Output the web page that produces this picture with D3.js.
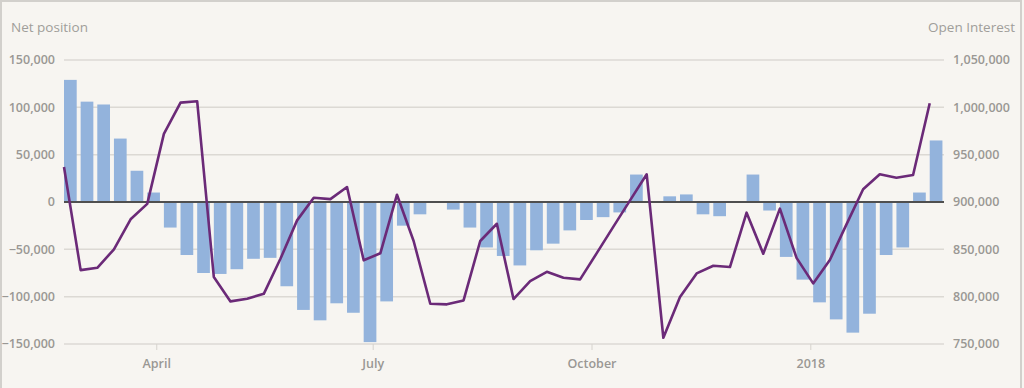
<!DOCTYPE html>
<html>
<head>
<meta charset="utf-8">
<script src="https://cdn.jsdelivr.net/npm/d3@7"></script>
<style>
  body { margin: 0; background: #f7f5f1; }
  #chart1 text { font-family: "Open Sans", sans-serif; }
</style>
</head>
<body>
<div id="chart1"></div>
<script>

// weekly report dates (Tuesdays)
var dates = ["2017-02-21","2017-02-28","2017-03-07","2017-03-14","2017-03-21","2017-03-28",
  "2017-04-04","2017-04-11","2017-04-18","2017-04-25","2017-05-02","2017-05-09","2017-05-16",
  "2017-05-23","2017-05-30","2017-06-06","2017-06-13","2017-06-20","2017-06-27","2017-07-04",
  "2017-07-11","2017-07-18","2017-07-25","2017-08-01","2017-08-08","2017-08-15","2017-08-22",
  "2017-08-29","2017-09-05","2017-09-12","2017-09-19","2017-09-26","2017-10-03","2017-10-10",
  "2017-10-17","2017-10-24","2017-10-31","2017-11-07","2017-11-14","2017-11-21","2017-11-28",
  "2017-12-05","2017-12-12","2017-12-19","2017-12-26","2018-01-02","2018-01-09","2018-01-16",
  "2018-01-23","2018-01-30","2018-02-06","2018-02-13","2018-02-20"];

// net position (bars, left axis)
var netPosition = [129000,106000,103000,67000,33000,10000,-27000,-56000,-75000,-76000,-71000,
  -60000,-59000,-89000,-114000,-125000,-107000,-117000,-148000,-105000,-25000,-13000,0,-8000,
  -27000,-48000,-57000,-67000,-51000,-44000,-30000,-19000,-16000,-11000,29000,1000,6000,8000,
  -13000,-15000,1000,29000,-9000,-58000,-82000,-106000,-124000,-138000,-118000,-56000,-48000,
  10000,65000];

// open interest (line, right axis)
var openInterest = [937000,828000,830500,850000,881700,898000,972000,1005000,1006400,820700,
  795000,797800,803000,840000,880600,904500,903000,915800,838400,845800,907700,858800,792500,
  791900,796000,858800,877000,797500,816500,826300,820000,818300,846000,874000,901700,929300,
  756600,799600,824600,832700,831300,888700,845400,893000,841000,814000,838700,876400,913400,
  929300,925700,928500,1004300];

var leftTicks = [-150000,-100000,-50000,0,50000,100000,150000];
var rightTicks = [750000,800000,850000,900000,950000,1000000,1050000];
var monthTicks = ["2017-04-01","2017-07-01","2017-10-01","2018-01-01"];
var monthLabels = ["April","July","October","2018"];

var w = 1024;
var h = 388;
var plotLeft = 64, plotRight = 944, plotTop = 60, plotBottom = 344;

var parse = d3.utcParse("%Y-%m-%d");
var fmt = d3.format(",");

var xScale = d3.scaleUtc()
    .domain([parse("2017-02-21"), parse("2018-02-26")])
    .range([plotLeft, plotRight]);

var yLeft = d3.scaleLinear()
    .domain([-150000, 150000])
    .range([plotBottom, plotTop]);

var yRight = d3.scaleLinear()
    .domain([750000, 1050000])
    .range([plotBottom, plotTop]);

var svg = d3.select("#chart1")
    .append("svg")
    .attr("width", w)
    .attr("height", h);

svg.append("rect")
    .attr("width", w)
    .attr("height", h)
    .attr("fill", "#f7f5f1");

// frame
svg.append("rect")
    .attr("x", 1)
    .attr("y", 1)
    .attr("width", w - 4)
    .attr("height", h)
    .attr("fill", "none")
    .attr("stroke", "#d2d0cc")
    .attr("stroke-width", 2);

// gridlines
svg.append("g")
    .selectAll("line")
    .data(leftTicks)
    .enter()
    .append("line")
    .attr("x1", plotLeft)
    .attr("x2", plotRight)
    .attr("y1", function(d) { return yLeft(d); })
    .attr("y2", function(d) { return yLeft(d); })
    .attr("stroke", "#dcd9d4")
    .attr("stroke-width", 1.5);

// left axis labels
svg.append("g")
    .selectAll("text")
    .data(leftTicks)
    .enter()
    .append("text")
    .attr("x", 55)
    .attr("y", function(d) { return yLeft(d); })
    .attr("dy", "0.35em")
    .attr("text-anchor", "end")
    .attr("font-size", 12.5)
    .attr("font-weight", 600)
    .attr("fill", "#9a9894")
    .text(function(d) { return fmt(d); });

// right axis labels
svg.append("g")
    .selectAll("text")
    .data(rightTicks)
    .enter()
    .append("text")
    .attr("x", 953)
    .attr("y", function(d) { return yRight(d); })
    .attr("dy", "0.35em")
    .attr("text-anchor", "start")
    .attr("font-size", 12.5)
    .attr("font-weight", 600)
    .attr("fill", "#9a9894")
    .text(function(d) { return fmt(d); });

// x ticks
svg.append("g")
    .selectAll("line")
    .data(monthTicks)
    .enter()
    .append("line")
    .attr("x1", function(d) { return xScale(parse(d)); })
    .attr("x2", function(d) { return xScale(parse(d)); })
    .attr("y1", plotBottom)
    .attr("y2", plotBottom + 6)
    .attr("stroke", "#d6d3ce")
    .attr("stroke-width", 1);

svg.append("g")
    .selectAll("text")
    .data(monthTicks)
    .enter()
    .append("text")
    .attr("x", function(d) { return xScale(parse(d)); })
    .attr("y", 364)
    .attr("dy", "0.35em")
    .attr("text-anchor", "middle")
    .attr("font-size", 12.5)
    .attr("font-weight", 600)
    .attr("fill", "#9a9894")
    .text(function(d, i) { return monthLabels[i]; });

// bars
svg.append("g")
    .selectAll("rect")
    .data(netPosition)
    .enter()
    .append("rect")
    .attr("x", function(d, i) { return xScale(parse(dates[i])); })
    .attr("width", 12.7)
    .attr("y", function(d) { return yLeft(Math.max(0, d)); })
    .attr("height", function(d) { return Math.abs(yLeft(d) - yLeft(0)); })
    .attr("fill", "#93b3dc");

// zero line
svg.append("line")
    .attr("x1", plotLeft)
    .attr("x2", plotRight)
    .attr("y1", yLeft(0))
    .attr("y2", yLeft(0))
    .attr("stroke", "#4f4f4f")
    .attr("stroke-width", 2);

// open interest line
var oiLine = d3.line()
    .x(function(d, i) { return xScale(parse(dates[i])); })
    .y(function(d) { return yRight(d); });

svg.append("path")
    .datum(openInterest)
    .attr("d", oiLine)
    .attr("fill", "none")
    .attr("stroke", "#6b2a78")
    .attr("stroke-width", 2.6)
    .attr("stroke-linejoin", "round");

// axis titles
svg.append("text")
    .attr("x", 11)
    .attr("y", 27)
    .attr("dy", "0.35em")
    .attr("font-size", 13.5)
    .attr("fill", "#a09e9a")
    .text("Net position");

svg.append("text")
    .attr("x", 1015)
    .attr("y", 27)
    .attr("dy", "0.35em")
    .attr("text-anchor", "end")
    .attr("font-size", 13.5)
    .attr("fill", "#a09e9a")
    .text("Open Interest");

</script>
</body>
</html>
